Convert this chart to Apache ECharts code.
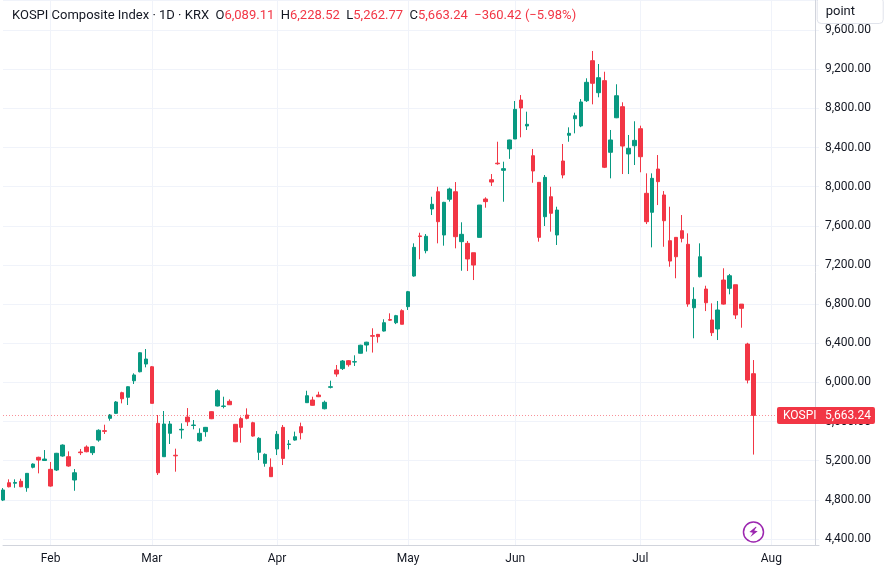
<!DOCTYPE html>
<html>
<head>
<meta charset="utf-8">
<title>KOSPI Composite Index</title>
<script src="https://cdn.jsdelivr.net/npm/echarts@6/dist/echarts.min.js"></script>
<style>
  html, body { margin: 0; padding: 0; background: #fff; }
  #chart { width: 887px; height: 574px; }
</style>
</head>
<body>
<div id="chart"></div>
<script>
// trading days (KRX, 2026) incl. a few future slots on the right
const monthDays = [
  ['2026-01', [21, 22, 23, 26, 27, 28, 29, 30]],
  ['2026-02', [2, 3, 4, 5, 6, 9, 10, 11, 12, 13, 19, 20, 23, 24, 25, 26, 27]],
  ['2026-03', [3, 4, 5, 6, 9, 10, 11, 12, 13, 16, 17, 18, 19, 20, 23, 24, 25, 26, 27, 30, 31]],
  ['2026-04', [1, 2, 3, 6, 7, 8, 9, 10, 13, 14, 15, 16, 17, 20, 21, 22, 23, 24, 27, 28, 29, 30]],
  ['2026-05', [4, 6, 7, 8, 11, 12, 13, 14, 15, 18, 19, 20, 21, 22, 26, 27, 28, 29]],
  ['2026-06', [1, 2, 4, 5, 8, 9, 10, 11, 12, 15, 16, 17, 18, 19, 22, 23, 24, 25, 26, 29, 30]],
  ['2026-07', [1, 2, 3, 6, 7, 8, 9, 10, 13, 14, 15, 16, 20, 21, 22, 23, 24, 27, 28, 29, 30, 31]],
  ['2026-08', [3, 4, 5, 6, 7, 10, 11, 12, 13]]
];
const monthNames = ['Jan', 'Feb', 'Mar', 'Apr', 'May', 'Jun', 'Jul', 'Aug', 'Sep', 'Oct', 'Nov', 'Dec'];

const opens = [4798, 4975, 4970, 4990, 4924, 5133, 5235, 5202, 5112, 5105,
  5248, 5241, 5003, 5289, 5340, 5282, 5411, 5507, 5633, 5684,
  5895, 5848, 6017, 6109, 6188, 6160, 5582, 5241, 5480, 5256,
  5515, 5646, 5560, 5404, 5497, 5701, 5759, 5755, 5807, 5572,
  5630, 5667, 5588, 5286, 5173, 5133, 5320, 5541, 5366, 5411,
  5548, 5793, 5820, 5871, 5731, 5950, 6127, 6141, 6222, 6208,
  6298, 6382, 6478, 6491, 6525, 6642, 6610, 6733, 6774, 7087,
  7497, 7346, 7772, 7948, 7506, 7871, 7948, 7438, 7421, 7325,
  7482, 7874, 8071, 8240, 8167, 8386, 8487, 8885, 8620, 8316,
  8044, 7693, 7897, 7506, 8262, 8525, 8694, 8620, 8878, 9287,
  8960, 9083, 8351, 8704, 8817, 8334, 8418, 8592, 7932, 7738,
  8180, 7915, 7448, 7482, 7550, 7411, 6763, 7080, 6954, 6638,
  6546, 7046, 6961, 6998, 6800, 6392, 6089.11];
const closes = [4901, 4934, 4978, 4934, 5071, 5166, 5207, 5217, 4941, 5276,
  5360, 5146, 5077, 5282, 5292, 5343, 5511, 5500, 5667, 5800,
  5833, 5956, 6076, 6303, 6239, 5786, 5077, 5575, 5575, 5250,
  5521, 5598, 5565, 5480, 5541, 5629, 5915, 5759, 5772, 5394,
  5541, 5633, 5452, 5429, 5265, 5037, 5470, 5224, 5371, 5445,
  5486, 5864, 5766, 5854, 5797, 5956, 6086, 6219, 6181, 6212,
  6380, 6411, 6472, 6467, 6610, 6636, 6682, 6594, 6927, 7380,
  7490, 7493, 7820, 7642, 7840, 7976, 7489, 7513, 7261, 7199,
  7812, 7847, 8047, 8234, 8184, 8477, 8790, 8804, 8637, 8160,
  7482, 8095, 7728, 7761, 8119, 8545, 8725, 8865, 9066, 9056,
  9113, 8198, 8477, 8929, 8415, 8392, 8473, 8306, 7642, 8085,
  8051, 7652, 7240, 7284, 7472, 6801, 6849, 7284, 6814, 6508,
  6740, 6800, 7090, 6689, 6757, 6023.66, 5663.24];
const lows = [4788, 4928, 4924, 4930, 4883, 5122, 5071, 5198, 4935, 5095,
  5241, 5139, 4893, 5258, 5286, 5258, 5394, 5473, 5609, 5677,
  5786, 5769, 5984, 6103, 6154, 5786, 5054, 5241, 5371, 5088,
  5425, 5555, 5521, 5394, 5445, 5625, 5755, 5735, 5770, 5390,
  5384, 5623, 5445, 5207, 5139, 5035, 5258, 5156, 5316, 5405,
  5418, 5790, 5763, 5850, 5725, 5939, 6058, 6127, 6161, 6168,
  6295, 6315, 6305, 6406, 6520, 6630, 6596, 6594, 6740, 7080,
  7258, 7319, 7710, 7421, 7397, 7847, 7370, 7141, 7138, 7046,
  7482, 7785, 8007, 8224, 7846, 8284, 8487, 8504, 8579, 8040,
  7438, 7598, 7540, 7404, 8085, 8459, 8545, 8608, 8865, 8841,
  8913, 8190, 8085, 8700, 8129, 8129, 8221, 8147, 7618, 7380,
  7812, 7386, 7182, 7064, 7431, 6773, 6451, 7073, 6729, 6474,
  6433, 6795, 6900, 6648, 6559, 5990, 5262.77];
const highs = [4921, 5010, 5010, 5016, 5074, 5173, 5241, 5309, 5187, 5280,
  5367, 5296, 5115, 5320, 5357, 5350, 5521, 5568, 5677, 5810,
  5905, 5960, 6093, 6308, 6341, 6168, 5667, 5708, 5606, 5323,
  5582, 5738, 5616, 5531, 5545, 5705, 5929, 5854, 5827, 5575,
  5650, 5735, 5598, 5440, 5275, 5224, 5503, 5565, 5411, 5497,
  5589, 5915, 5854, 5905, 5814, 6018, 6178, 6229, 6229, 6277,
  6385, 6415, 6553, 6495, 6645, 6706, 6690, 6747, 6935, 7421,
  7529, 7516, 7897, 7999, 7845, 7990, 8047, 7636, 7445, 7325,
  7812, 7891, 8129, 8459, 8255, 8480, 8875, 8936, 8766, 8385,
  8044, 8119, 7999, 7795, 8436, 8606, 8756, 8895, 9107, 9386,
  9253, 9174, 8579, 9046, 8862, 8528, 8668, 8623, 8136, 8136,
  8323, 7955, 7795, 7482, 7710, 7523, 6972, 7421, 6988, 6808,
  6832, 7166, 7108, 6998, 6800, 6405, 6228.52];

const UP = '#089981';
const DOWN = '#f23645';
const FONT = 'Roboto, "Noto Sans", sans-serif';

const dates = [];
monthDays.forEach(([m, days]) => days.forEach(d => dates.push(m + '-' + String(d).padStart(2, '0'))));

const candles = opens.map((o, i) => [o, closes[i], lows[i], highs[i]]);

const n = candles.length;
const last = candles[n - 1];
const prevClose = closes[n - 2];
const chg = last[1] - prevClose;
const pct = chg / prevClose * 100;
const fmt = v => v.toLocaleString('en-US', { minimumFractionDigits: 2, maximumFractionDigits: 2 });
const sgn = v => (v < 0 ? '\u2212' : '+') + fmt(Math.abs(v));

const isMonthStart = idx => idx > 0 && dates[idx].slice(0, 7) !== dates[idx - 1].slice(0, 7);

const chart = echarts.init(document.getElementById('chart'));
chart.setOption({
  animation: false,
  backgroundColor: '#fff',
  textStyle: { fontFamily: FONT },
  title: [{
    left: 7,
    top: 4,
    text: 'KOSPI Composite Index \u00b7 1D \u00b7 KRX  O{r|' + fmt(last[0]) + '}  H{r|' + fmt(last[3]) +
      '}  L{r|' + fmt(last[2]) + '}  C{r|' + fmt(last[1]) + '}  {r|' + sgn(chg) + ' (' + sgn(pct) + '%)}',
    textStyle: {
      fontSize: 13, fontWeight: 'normal', color: '#131722', fontFamily: FONT,
      rich: { r: { fontSize: 13, color: DOWN, fontFamily: FONT } }
    }
  }, {
    right: 4,
    top: -3,
    text: 'point',
    backgroundColor: '#fff',
    borderColor: '#e0e3eb',
    borderWidth: 1,
    borderRadius: 4,
    padding: [8, 28, 6, 9],
    textStyle: { fontSize: 13, fontWeight: 'normal', color: '#131722', fontFamily: FONT }
  }],
  grid: { left: 3, right: 68, top: 0, bottom: 29 },
  xAxis: {
    type: 'category',
    data: dates,
    boundaryGap: false,
    axisLine: { lineStyle: { color: '#d1d4dc' } },
    axisTick: { show: false },
    axisLabel: {
      color: '#131722',
      fontSize: 12,
      margin: 8,
      interval: idx => isMonthStart(idx),
      formatter: v => monthNames[+v.slice(5, 7) - 1]
    },
    splitLine: {
      show: true,
      interval: idx => isMonthStart(idx),
      lineStyle: { color: '#f0f3fa' }
    }
  },
  yAxis: {
    type: 'value',
    position: 'right',
    offset: -4,
    scale: true,
    min: 4339,
    max: 9907,
    minInterval: 400,
    maxInterval: 400,
    axisLine: { show: true, lineStyle: { color: '#d1d4dc' } },
    axisTick: { show: false },
    axisLabel: {
      color: '#131722',
      fontSize: 12,
      margin: 10,
      showMinLabel: false,
      showMaxLabel: false,
      formatter: v => fmt(v)
    },
    splitLine: { lineStyle: { color: '#f0f3fa' } }
  },
  series: [{
    type: 'candlestick',
    data: candles,
    barWidth: 4,
    clip: false,
    itemStyle: {
      color: UP,
      color0: DOWN,
      borderColor: UP,
      borderColor0: DOWN,
      borderWidth: 1
    },
    markLine: {
      silent: true,
      symbol: 'none',
      data: [{ yAxis: last[1] }],
      lineStyle: { color: 'rgba(242, 54, 69, 0.55)', type: [1, 2], width: 1 },
      label: {
        show: true,
        position: 'end',
        distance: -42,
        formatter: () => '{a|KOSPI}{b|' + fmt(last[1]) + '}',
        backgroundColor: DOWN,
        borderRadius: 2,
        padding: [3, 4, 2, 6],
        color: '#fff',
        fontSize: 12,
        fontFamily: FONT,
        rich: {
          a: { color: '#fff', fontSize: 12, width: 42, fontFamily: FONT },
          b: { color: '#fff', fontSize: 12, fontFamily: FONT }
        }
      }
    },
    markPoint: {
      silent: true,
      label: { show: false },
      data: [
        {
          coord: [dates[n - 1], 4472],
          symbol: 'circle',
          symbolSize: 20,
          itemStyle: { color: '#fff', borderColor: '#9c27b0', borderWidth: 1.5 }
        },
        {
          coord: [dates[n - 1], 4472],
          symbol: 'path://M7 0 L1 8 L5 8 L3 14 L10 5 L6 5 L8 0 Z',
          symbolSize: [8, 11],
          symbolRotate: -10,
          itemStyle: { color: '#9c27b0' }
        }
      ]
    }
  }]
});
</script>
</body>
</html>
